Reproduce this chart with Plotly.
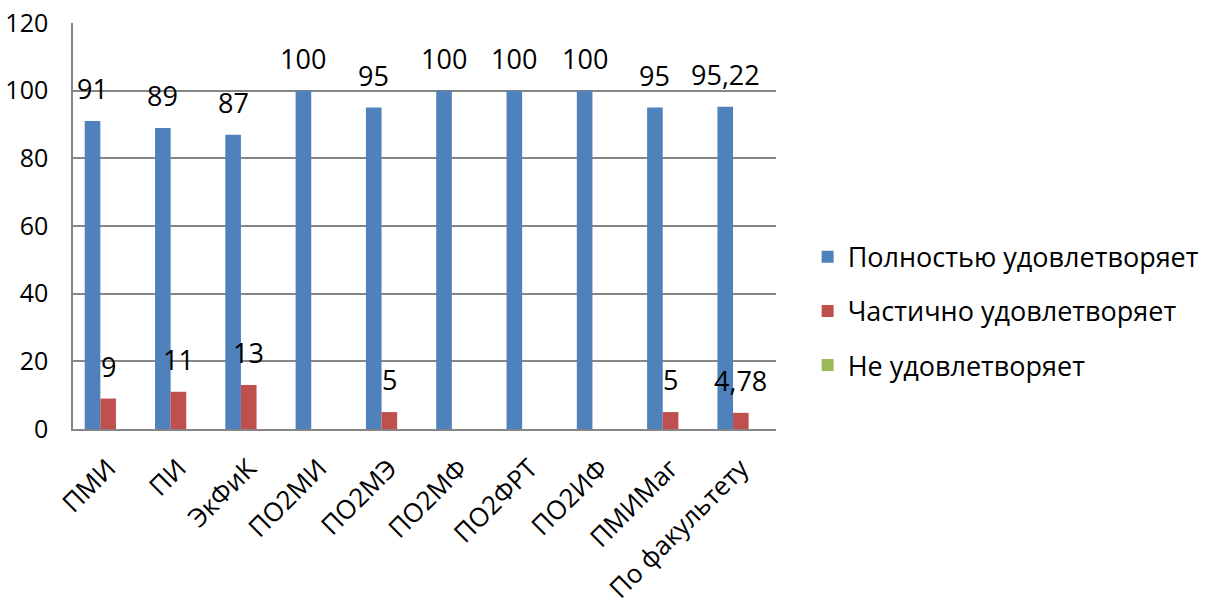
import plotly.graph_objects as go

categories = ["ПМИ", "ПИ", "ЭкФиК", "ПО2МИ", "ПО2МЭ", "ПО2МФ", "ПО2ФРТ", "ПО2ИФ", "ПМИМаг", "По факультету"]
full = [91, 89, 87, 100, 95, 100, 100, 100, 95, 95.22]
partial = [9, 11, 13, None, 5, None, None, None, 5, 4.78]
none_ = [None] * 10
series_names = ["Полностью удовлетворяет", "Частично удовлетворяет", "Не удовлетворяет"]
colors = ["#4F81BD", "#C0504D", "#9BBB59"]

FONT = "Open Sans"
fig = go.Figure()
all_series = [full, partial, none_]
for i, (name, vals, col) in enumerate(zip(series_names, all_series, colors)):
    fig.add_trace(go.Bar(
        x=categories, y=vals, name=name, marker_color=col,
        marker_line_width=0, legendgroup=f"g{i}",
    ))

def fmt(v):
    s = f"{v:g}"
    return s.replace(".", ",")

# data labels above bars
plot_w = 1209 - 73 - 433
cat_w = plot_w / len(categories)
bar_w = cat_w / 4.5
for i, vals in enumerate(all_series):
    offset = (i - 1) * bar_w
    for c, v in zip(categories, vals):
        if v is None:
            continue
        fig.add_annotation(
            x=c, y=v, xref="x", yref="y", text=fmt(v), showarrow=False,
            xanchor="center", yanchor="bottom", xshift=offset, yshift=12,
            font=dict(family=FONT, size=27, color="#000000"),
        )

fig.update_layout(
    width=1209, height=606,
    margin=dict(l=73, r=433, t=23, b=177, autoexpand=False),
    paper_bgcolor="white", plot_bgcolor="white",
    barmode="group", bargap=1.5 / 4.5, bargroupgap=0,
    font=dict(family=FONT, size=22, color="#000000"),
    legend=dict(
        x=1.045, y=0.29, xanchor="left", yanchor="middle",
        font=dict(family=FONT, size=27, color="#000000"),
        traceorder="grouped", tracegroupgap=16,
        bgcolor="rgba(0,0,0,0)",
    ),
    xaxis=dict(
        showline=True, linecolor="#868686", linewidth=1.5,
        tickangle=-45, ticks="", showgrid=False, automargin=False,
        ticklabelstandoff=12,
        tickfont=dict(family=FONT, size=26, color="#000000"),
    ),
    yaxis=dict(
        range=[0, 120], dtick=20, tick0=0,
        showline=True, linecolor="#868686", linewidth=1.5,
        showgrid=True, gridcolor="#868686", gridwidth=1.5,
        ticks="", ticklen=0, zeroline=False, automargin=False,
        ticklabelstandoff=18,
        tickfont=dict(family=FONT, size=25, color="#000000"),
    ),
)

fig.write_html("out.html", config={"displayModeBar": False},
               post_script="document.body.style.margin='0';document.body.style.overflow='hidden';")
